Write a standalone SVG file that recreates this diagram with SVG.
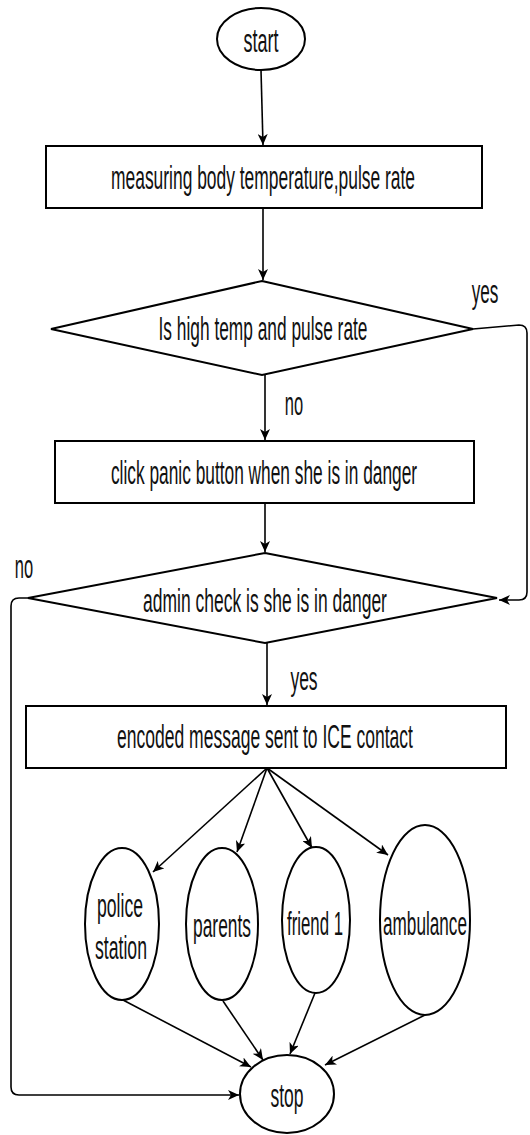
<svg xmlns="http://www.w3.org/2000/svg" width="530" height="1135" viewBox="0 0 530 1135">
<style>
.s{fill:#fff;stroke:#000;stroke-width:2}
.t{font-family:"Liberation Sans",Arial,sans-serif;font-size:33px;fill:#111;text-anchor:middle}
.c{fill:none;stroke:#000;stroke-width:1.6}
</style>
<defs>
<marker id="a" markerUnits="userSpaceOnUse" markerWidth="12" markerHeight="10" refX="11" refY="5" orient="auto">
<path d="M0,0 L11,5 L0,10 L3,5 z" fill="#000"/>
</marker>
</defs>
<rect width="530" height="1135" fill="#fff"/>
<g id="connectors">
<path class="c" d="M261,70 L263,145" marker-end="url(#a)"/>
<path class="c" d="M263,208 L263,280" marker-end="url(#a)"/>
<path class="c" d="M265,375 L265,440" marker-end="url(#a)"/>
<path class="c" d="M265,503 L265,552" marker-end="url(#a)"/>
<path class="c" d="M267,643 L267,705" marker-end="url(#a)"/>
<path class="c" d="M473,329 L519,325 Q527,325 527,333 L527,592 Q527,600 519,600 L499,600" marker-end="url(#a)"/>
<path class="c" d="M28,598 L19,598 Q11,598 11,606 L11,1087 Q11,1095 19,1095 L239,1095" marker-end="url(#a)"/>
<path class="c" d="M267,768 L153,872" marker-end="url(#a)"/>
<path class="c" d="M267,768 L237,852" marker-end="url(#a)"/>
<path class="c" d="M267,768 L312,848" marker-end="url(#a)"/>
<path class="c" d="M267,768 L388,855" marker-end="url(#a)"/>
<path class="c" d="M123,1000 L251,1067" marker-end="url(#a)"/>
<path class="c" d="M223,1001 L263,1060" marker-end="url(#a)"/>
<path class="c" d="M315,993 L290,1054" marker-end="url(#a)"/>
<path class="c" d="M425,1015 L325,1065" marker-end="url(#a)"/>
<text class="t" transform="translate(485,303) scale(0.52,1)">yes</text>
<text class="t" transform="translate(294,415) scale(0.5,1)">no</text>
<text class="t" transform="translate(24,578) scale(0.5,1)">no</text>
<text class="t" transform="translate(304,690) scale(0.53,1)">yes</text>
</g>
<g id="start">
<ellipse class="s" cx="261" cy="39" rx="44" ry="31"/>
<text class="t" transform="translate(261,52) scale(0.545,1)">start</text>
</g>
<g id="measure">
<rect class="s" x="46" y="146" width="436" height="62"/>
<text class="t" transform="translate(263,189) scale(0.528,1)">measuring body temperature,pulse rate</text>
</g>
<g id="decision1">
<polygon class="s" points="262,281 473,329 262,375 51,329"/>
<text class="t" transform="translate(263,340) scale(0.525,1)">Is high temp and pulse rate</text>
</g>
<g id="panic">
<rect class="s" x="55" y="441" width="419" height="62"/>
<text class="t" transform="translate(264,484) scale(0.525,1)">click panic button when she is in danger</text>
</g>
<g id="decision2">
<polygon class="s" points="265,553 497,598 265,643 28,598"/>
<text class="t" transform="translate(265,612) scale(0.53,1)">admin check is she is in danger</text>
</g>
<g id="encoded">
<rect class="s" x="26" y="706" width="480" height="62"/>
<text class="t" transform="translate(265,748) scale(0.531,1)">encoded message sent to ICE contact</text>
</g>
<g id="police">
<ellipse class="s" cx="122" cy="924" rx="37" ry="76"/>
<text class="t" transform="translate(120,917) scale(0.534,1)">police</text>
<text class="t" transform="translate(121,959) scale(0.535,1)">station</text>
</g>
<g id="parents">
<ellipse class="s" cx="222" cy="924" rx="36" ry="76"/>
<text class="t" transform="translate(222,937) scale(0.527,1)">parents</text>
</g>
<g id="friend">
<ellipse class="s" cx="316" cy="920" rx="34" ry="73"/>
<text class="t" transform="translate(315,935) scale(0.509,1)">friend 1</text>
</g>
<g id="ambulance">
<ellipse class="s" cx="425" cy="920" rx="45" ry="95"/>
<text class="t" transform="translate(425,935) scale(0.52,1)">ambulance</text>
</g>
<g id="stop">
<ellipse class="s" cx="287" cy="1094" rx="47" ry="39"/>
<text class="t" transform="translate(287,1107) scale(0.53,1)">stop</text>
</g>
</svg>
